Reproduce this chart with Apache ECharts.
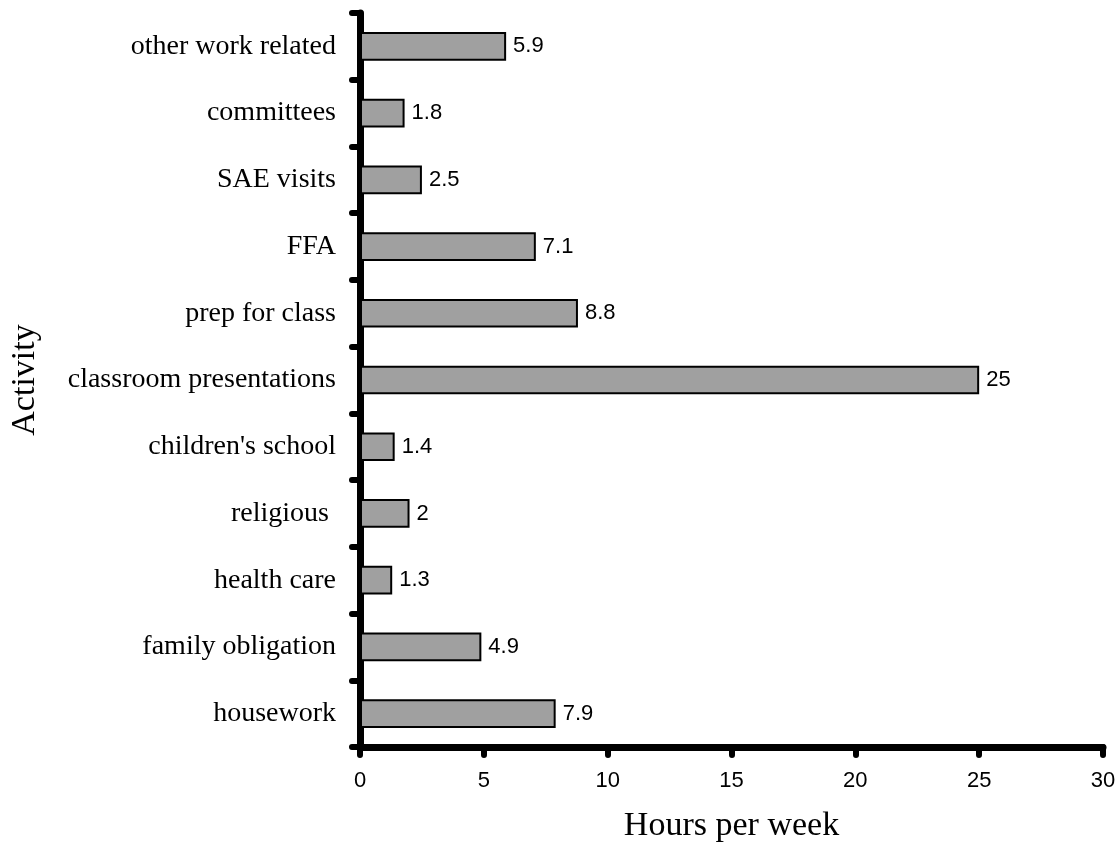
<!DOCTYPE html>
<html>
<head>
<meta charset="utf-8">
<script src="https://cdn.jsdelivr.net/npm/echarts@6/dist/echarts.min.js"></script>
<style>
  html, body { margin: 0; padding: 0; background: #fff; }
  #chart { width: 1119px; height: 848px; }
</style>
</head>
<body>
<div id="chart"></div>
<script>
// bottom to top, as the category axis draws them
var activities = ['housework', 'family obligation', 'health care', 'religious ', "children's school",
  'classroom presentations', 'prep for class', 'FFA', 'SAE visits', 'committees', 'other work related'];
var hours = [7.9, 4.9, 1.3, 2, 1.4, 25, 8.8, 7.1, 2.5, 1.8, 5.9];
var hourTicks = [0, 5, 10, 15, 20, 25, 30];

var myChart = echarts.init(document.getElementById('chart'));
var option = {
  animation: false,
  grid: { left: 357, right: 16, top: 13, bottom: 98, containLabel: false },
  xAxis: {
    type: 'value',
    min: hourTicks[0],
    max: hourTicks[hourTicks.length - 1],
    interval: 5,
    name: 'Hours per week',
    nameLocation: 'middle',
    nameGap: 62,
    nameTextStyle: { fontFamily: 'Liberation Serif', fontSize: 34, color: '#000' },
    axisLine: { show: true, lineStyle: { color: '#000', width: 7, cap: 'round' } },
    axisTick: { show: true, length: 8, lineStyle: { color: '#000', width: 6, cap: 'round' } },
    axisLabel: { fontFamily: 'Liberation Sans', fontSize: 22, color: '#000', margin: 23 },
    splitLine: { show: false }
  },
  yAxis: {
    type: 'category',
    data: activities,
    name: 'Activity',
    nameLocation: 'middle',
    nameGap: 318,
    nameTextStyle: { fontFamily: 'Liberation Serif', fontSize: 34, color: '#000' },
    axisLine: { show: true, lineStyle: { color: '#000', width: 7, cap: 'round' } },
    axisTick: { show: true, length: 8, alignWithLabel: false, lineStyle: { color: '#000', width: 6, cap: 'round' } },
    axisLabel: { fontFamily: 'Liberation Serif', fontSize: 28, color: '#000', margin: 24 }
  },
  series: [{
    type: 'bar',
    data: hours,
    barCategoryGap: '57%',
    itemStyle: { color: '#a0a0a0', borderColor: '#000', borderWidth: 2 },
    label: {
      show: true,
      position: 'right',
      distance: 7,
      fontFamily: 'Liberation Sans',
      fontSize: 22,
      color: '#000'
    }
  }]
};
myChart.setOption(option);
</script>
</body>
</html>
